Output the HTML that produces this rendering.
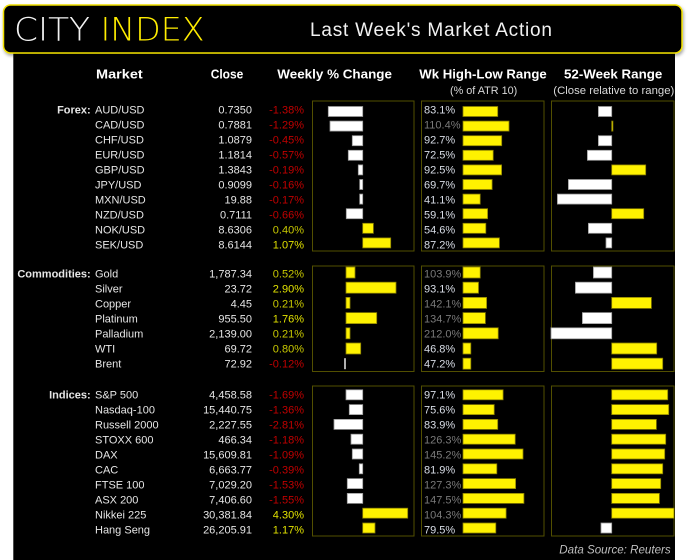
<!DOCTYPE html>
<html><head><meta charset="utf-8"><style>
html,body{margin:0;padding:0;background:#fff;width:694px;height:560px;overflow:hidden}
svg{display:block;font-family:"Liberation Sans","DejaVu Sans",sans-serif}
.n{fill:#e6e6e6;font-size:11px}
.c{fill:#e6e6e6;font-size:11px;text-anchor:end}
.neg{fill:#c00000;font-size:11px;text-anchor:end}
.pos{fill:#c8c800;font-size:11px;text-anchor:end}
.pos2{fill:#e2e200;font-size:11px;text-anchor:end}
.lo{fill:#d8dde6;font-size:11px}
.hi{fill:#7a7a7a;font-size:11px}
.cat{fill:#e6e6e6;font-size:11px;font-weight:bold;text-anchor:end}
.h{fill:#ffffff;font-size:12.5px;font-weight:bold}
.s{fill:#d9d9d9;font-size:11px}
.w{fill:#ffffff;stroke:#9a9a9a;stroke-width:0.8}
.y{fill:#fff200;stroke:#8a8000;stroke-width:0.8}
.g{fill:#b0b0b0}
.p{fill:none;stroke:#524f00;stroke-width:1}
.logo{font-family:"DejaVu Sans","Liberation Sans",sans-serif;font-weight:200;font-size:32px}
</style></head><body>
<svg width="694" height="560" viewBox="0 0 694 560" xmlns="http://www.w3.org/2000/svg">
<defs>
<filter id="sh" x="-5%" y="-20%" width="110%" height="150%"><feDropShadow dx="1" dy="2" stdDeviation="1.5" flood-color="#000" flood-opacity="0.35"/></filter>
</defs>
<rect x="0" y="0" width="694" height="560" fill="#fff"/>
<rect x="13.3" y="50" width="661.7" height="510" fill="#000"/>
<rect x="3.5" y="5" width="678.5" height="48" rx="7" ry="7" fill="#000" stroke="#f0e000" stroke-width="1.5" filter="url(#sh)"/>
<text class="logo" x="14" y="40.7" fill="#f2f2f2" textLength="76" lengthAdjust="spacingAndGlyphs">CITY</text>
<text class="logo" x="100.5" y="40.7" fill="#ffed00" textLength="104" lengthAdjust="spacingAndGlyphs">INDEX</text>
<text x="310" y="36" font-size="19" fill="#f2f2f2" textLength="242" lengthAdjust="spacing">Last Week's Market Action</text>

<text class="h" x="96" y="78.3" textLength="46.7" lengthAdjust="spacingAndGlyphs">Market</text>
<text class="h" x="210.7" y="78.3" textLength="32.6" lengthAdjust="spacingAndGlyphs">Close</text>
<text class="h" x="277.3" y="78.3" textLength="114.7" lengthAdjust="spacingAndGlyphs">Weekly % Change</text>
<text class="h" x="419.3" y="78.3" textLength="127.4" lengthAdjust="spacingAndGlyphs">Wk High-Low Range</text>
<text class="h" x="564" y="78.3" textLength="98.3" lengthAdjust="spacingAndGlyphs">52-Week Range</text>
<text class="s" x="450" y="94" textLength="67.3" lengthAdjust="spacingAndGlyphs">(% of ATR 10)</text>
<text class="s" x="553.3" y="94" textLength="121" lengthAdjust="spacingAndGlyphs">(Close relative to range)</text>

<!-- panels -->
<rect class="p" x="312.5" y="101" width="101.5" height="150"/>
<rect class="p" x="421.5" y="101" width="122.5" height="150"/>
<rect class="p" x="551.5" y="101" width="122.5" height="150"/>
<rect class="p" x="312.5" y="266" width="101.5" height="105.5"/>
<rect class="p" x="421.5" y="266" width="122.5" height="105.5"/>
<rect class="p" x="551.5" y="266" width="122.5" height="105.5"/>
<rect class="p" x="312.5" y="386" width="101.5" height="150"/>
<rect class="p" x="421.5" y="386" width="122.5" height="150"/>
<rect class="p" x="551.5" y="386" width="122.5" height="150"/>

<!-- FOREX -->
<text class="cat" x="90.7" y="113.3">Forex:</text>
<text class="n" x="95" y="113.3">AUD/USD</text><text class="c" x="252" y="113.3">0.7350</text><text class="neg" x="304" y="113.3">-1.38%</text><text class="lo" x="424" y="113.3">83.1%</text>
<text class="n" x="95" y="128.3">CAD/USD</text><text class="c" x="252" y="128.3">0.7881</text><text class="neg" x="304" y="128.3">-1.29%</text><text class="hi" x="424" y="128.3">110.4%</text>
<text class="n" x="95" y="143.3">CHF/USD</text><text class="c" x="252" y="143.3">1.0879</text><text class="neg" x="304" y="143.3">-0.45%</text><text class="lo" x="424" y="143.3">92.7%</text>
<text class="n" x="95" y="158.3">EUR/USD</text><text class="c" x="252" y="158.3">1.1814</text><text class="neg" x="304" y="158.3">-0.57%</text><text class="lo" x="424" y="158.3">72.5%</text>
<text class="n" x="95" y="173.3">GBP/USD</text><text class="c" x="252" y="173.3">1.3843</text><text class="neg" x="304" y="173.3">-0.19%</text><text class="lo" x="424" y="173.3">92.5%</text>
<text class="n" x="95" y="188.3">JPY/USD</text><text class="c" x="252" y="188.3">0.9099</text><text class="neg" x="304" y="188.3">-0.16%</text><text class="lo" x="424" y="188.3">69.7%</text>
<text class="n" x="95" y="203.3">MXN/USD</text><text class="c" x="252" y="203.3">19.88</text><text class="neg" x="304" y="203.3">-0.17%</text><text class="lo" x="424" y="203.3">41.1%</text>
<text class="n" x="95" y="218.3">NZD/USD</text><text class="c" x="252" y="218.3">0.7111</text><text class="neg" x="304" y="218.3">-0.66%</text><text class="lo" x="424" y="218.3">59.1%</text>
<text class="n" x="95" y="233.3">NOK/USD</text><text class="c" x="252" y="233.3">8.6306</text><text class="pos" x="304" y="233.3">0.40%</text><text class="lo" x="424" y="233.3">54.6%</text>
<text class="n" x="95" y="248.3">SEK/USD</text><text class="c" x="252" y="248.3">8.6144</text><text class="pos2" x="304" y="248.3">1.07%</text><text class="lo" x="424" y="248.3">87.2%</text>

<!-- forex weekly bars -->
<rect class="w" x="328.3" y="106.5" width="34.4" height="10"/>
<rect class="w" x="330" y="121.1" width="32.7" height="10"/>
<rect class="w" x="352.3" y="135.7" width="10.4" height="10"/>
<rect class="w" x="348.3" y="150.3" width="14.4" height="10"/>
<rect class="w" x="358.3" y="164.9" width="4.4" height="10"/>
<rect class="w" x="359.7" y="179.5" width="3" height="10"/>
<rect class="w" x="359.7" y="194.1" width="3" height="10"/>
<rect class="w" x="346.3" y="208.7" width="16.4" height="10"/>
<rect class="y" x="362.7" y="223.3" width="10.7" height="10"/>
<rect class="y" x="362.7" y="237.9" width="28" height="10"/>
<!-- forex wk bars -->
<rect class="y" x="463" y="106.5" width="34.7" height="10"/>
<rect class="y" x="463" y="121.1" width="46" height="10"/>
<rect class="y" x="463" y="135.7" width="38.7" height="10"/>
<rect class="y" x="463" y="150.3" width="30.2" height="10"/>
<rect class="y" x="463" y="164.9" width="38.6" height="10"/>
<rect class="y" x="463" y="179.5" width="29.1" height="10"/>
<rect class="y" x="463" y="194.1" width="17.2" height="10"/>
<rect class="y" x="463" y="208.7" width="24.6" height="10"/>
<rect class="y" x="463" y="223.3" width="22.8" height="10"/>
<rect class="y" x="463" y="237.9" width="36.4" height="10"/>
<!-- forex 52wk bars -->
<rect class="w" x="598.4" y="106.5" width="13.3" height="10"/>
<rect class="y" x="611.7" y="121.1" width="1.2" height="10"/>
<rect class="w" x="598.4" y="135.7" width="13.3" height="10"/>
<rect class="w" x="587.4" y="150.3" width="24.3" height="10"/>
<rect class="y" x="611.7" y="164.9" width="34" height="10"/>
<rect class="w" x="568.4" y="179.5" width="43.3" height="10"/>
<rect class="w" x="557.4" y="194.1" width="54.3" height="10"/>
<rect class="y" x="611.7" y="208.7" width="32" height="10"/>
<rect class="w" x="588.4" y="223.3" width="23.3" height="10"/>
<rect class="w" x="606" y="237.9" width="5.7" height="10"/>

<!-- COMMODITIES -->
<text class="cat" x="90.7" y="277.7">Commodities:</text>
<text class="n" x="95" y="277.7">Gold</text><text class="c" x="252" y="277.7">1,787.34</text><text class="pos" x="304" y="277.7">0.52%</text><text class="hi" x="424" y="277.7">103.9%</text>
<text class="n" x="95" y="292.7">Silver</text><text class="c" x="252" y="292.7">23.72</text><text class="pos2" x="304" y="292.7">2.90%</text><text class="lo" x="424" y="292.7">93.1%</text>
<text class="n" x="95" y="307.7">Copper</text><text class="c" x="252" y="307.7">4.45</text><text class="pos" x="304" y="307.7">0.21%</text><text class="hi" x="424" y="307.7">142.1%</text>
<text class="n" x="95" y="322.7">Platinum</text><text class="c" x="252" y="322.7">955.50</text><text class="pos2" x="304" y="322.7">1.76%</text><text class="hi" x="424" y="322.7">134.7%</text>
<text class="n" x="95" y="337.7">Palladium</text><text class="c" x="252" y="337.7">2,139.00</text><text class="pos" x="304" y="337.7">0.21%</text><text class="hi" x="424" y="337.7">212.0%</text>
<text class="n" x="95" y="352.7">WTI</text><text class="c" x="252" y="352.7">69.72</text><text class="pos" x="304" y="352.7">0.80%</text><text class="lo" x="424" y="352.7">46.8%</text>
<text class="n" x="95" y="367.7">Brent</text><text class="c" x="252" y="367.7">72.92</text><text class="neg" x="304" y="367.7">-0.12%</text><text class="lo" x="424" y="367.7">47.2%</text>

<rect class="y" x="346" y="267" width="9" height="11"/>
<rect class="y" x="346" y="282.2" width="50" height="11"/>
<rect class="y" x="346" y="297.4" width="4" height="11"/>
<rect class="y" x="346" y="312.6" width="30.7" height="11"/>
<rect class="y" x="346" y="327.8" width="4" height="11"/>
<rect class="y" x="346" y="343" width="14.7" height="11"/>
<rect class="g" x="344" y="358.2" width="2" height="11"/>

<rect class="y" x="463" y="267" width="17.2" height="11"/>
<rect class="y" x="463" y="282.2" width="15.5" height="11"/>
<rect class="y" x="463" y="297.4" width="23.6" height="11"/>
<rect class="y" x="463" y="312.6" width="22.4" height="11"/>
<rect class="y" x="463" y="327.8" width="35.2" height="11"/>
<rect class="y" x="463" y="343" width="7.8" height="11"/>
<rect class="y" x="463" y="358.2" width="7.8" height="11"/>

<rect class="w" x="593.4" y="267" width="18.3" height="11"/>
<rect class="w" x="575.4" y="282.2" width="36.3" height="11"/>
<rect class="y" x="611.7" y="297.4" width="39.7" height="11"/>
<rect class="w" x="582.4" y="312.6" width="29.3" height="11"/>
<rect class="w" x="551" y="327.8" width="60.7" height="11"/>
<rect class="y" x="611.7" y="343" width="45" height="11"/>
<rect class="y" x="611.7" y="358.2" width="51" height="11"/>

<!-- INDICES -->
<text class="cat" x="90.7" y="398.3">Indices:</text>
<text class="n" x="95" y="398.3">S&amp;P 500</text><text class="c" x="252" y="398.3">4,458.58</text><text class="neg" x="304" y="398.3">-1.69%</text><text class="lo" x="424" y="398.3">97.1%</text>
<text class="n" x="95" y="413.3">Nasdaq-100</text><text class="c" x="252" y="413.3">15,440.75</text><text class="neg" x="304" y="413.3">-1.36%</text><text class="lo" x="424" y="413.3">75.6%</text>
<text class="n" x="95" y="428.3">Russell 2000</text><text class="c" x="252" y="428.3">2,227.55</text><text class="neg" x="304" y="428.3">-2.81%</text><text class="lo" x="424" y="428.3">83.9%</text>
<text class="n" x="95" y="443.3">STOXX 600</text><text class="c" x="252" y="443.3">466.34</text><text class="neg" x="304" y="443.3">-1.18%</text><text class="hi" x="424" y="443.3">126.3%</text>
<text class="n" x="95" y="458.3">DAX</text><text class="c" x="252" y="458.3">15,609.81</text><text class="neg" x="304" y="458.3">-1.09%</text><text class="hi" x="424" y="458.3">145.2%</text>
<text class="n" x="95" y="473.3">CAC</text><text class="c" x="252" y="473.3">6,663.77</text><text class="neg" x="304" y="473.3">-0.39%</text><text class="lo" x="424" y="473.3">81.9%</text>
<text class="n" x="95" y="488.3">FTSE 100</text><text class="c" x="252" y="488.3">7,029.20</text><text class="neg" x="304" y="488.3">-1.53%</text><text class="hi" x="424" y="488.3">127.3%</text>
<text class="n" x="95" y="503.3">ASX 200</text><text class="c" x="252" y="503.3">7,406.60</text><text class="neg" x="304" y="503.3">-1.55%</text><text class="hi" x="424" y="503.3">147.5%</text>
<text class="n" x="95" y="518.3">Nikkei 225</text><text class="c" x="252" y="518.3">30,381.84</text><text class="pos2" x="304" y="518.3">4.30%</text><text class="hi" x="424" y="518.3">104.3%</text>
<text class="n" x="95" y="533.3">Hang Seng</text><text class="c" x="252" y="533.3">26,205.91</text><text class="pos2" x="304" y="533.3">1.17%</text><text class="lo" x="424" y="533.3">79.5%</text>

<rect class="w" x="346" y="389.8" width="16.7" height="10"/>
<rect class="w" x="349.3" y="404.6" width="13.4" height="10"/>
<rect class="w" x="334" y="419.4" width="28.7" height="10"/>
<rect class="w" x="351" y="434.2" width="11.7" height="10"/>
<rect class="w" x="352.3" y="449" width="10.4" height="10"/>
<rect class="w" x="359.3" y="463.8" width="3.4" height="10"/>
<rect class="w" x="347.3" y="478.6" width="15.4" height="10"/>
<rect class="w" x="347.3" y="493.4" width="15.4" height="10"/>
<rect class="y" x="362.7" y="508.2" width="45" height="10"/>
<rect class="y" x="362.7" y="523" width="12.3" height="10"/>

<rect class="y" x="463" y="389.8" width="40.1" height="10"/>
<rect class="y" x="463" y="404.6" width="31.2" height="10"/>
<rect class="y" x="463" y="419.4" width="34.7" height="10"/>
<rect class="y" x="463" y="434.2" width="52.2" height="10"/>
<rect class="y" x="463" y="449" width="60" height="10"/>
<rect class="y" x="463" y="463.8" width="33.8" height="10"/>
<rect class="y" x="463" y="478.6" width="52.6" height="10"/>
<rect class="y" x="463" y="493.4" width="60.9" height="10"/>
<rect class="y" x="463" y="508.2" width="43.1" height="10"/>
<rect class="y" x="463" y="523" width="32.8" height="10"/>

<rect class="y" x="611.7" y="389.8" width="56" height="10"/>
<rect class="y" x="611.7" y="404.6" width="57" height="10"/>
<rect class="y" x="611.7" y="419.4" width="44.7" height="10"/>
<rect class="y" x="611.7" y="434.2" width="54" height="10"/>
<rect class="y" x="611.7" y="449" width="53" height="10"/>
<rect class="y" x="611.7" y="463.8" width="51" height="10"/>
<rect class="y" x="611.7" y="478.6" width="49" height="10"/>
<rect class="y" x="611.7" y="493.4" width="47.7" height="10"/>
<rect class="y" x="611.7" y="508.2" width="62.3" height="10"/>
<rect class="w" x="601" y="523" width="10.7" height="10"/>

<text x="559.3" y="553.5" font-size="11.5" font-style="italic" fill="#bfbfbf" textLength="111.4" lengthAdjust="spacingAndGlyphs">Data Source: Reuters</text>
</svg>
</body></html>
